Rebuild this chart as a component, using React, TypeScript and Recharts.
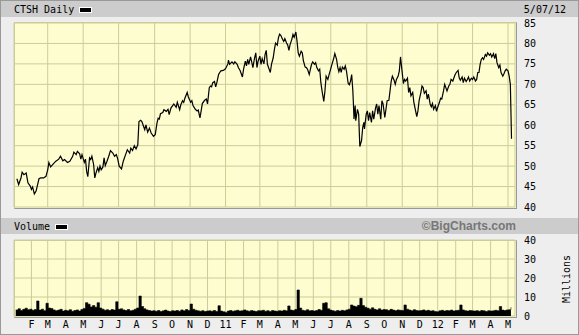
import React from 'react';
import { LineChart, Line, AreaChart, Area, XAxis, YAxis, CartesianGrid } from 'recharts';

// Days counted from 2010-01-01
const priceDays = [
  6, 9, 13, 15, 18, 22, 25, 29, 31, 33, 36, 39, 41, 44, 47, 52, 56, 59, 61, 64, 69, 73, 78, 81, 85, 88, 93, 97,
  102, 104, 108, 110, 114, 116, 118, 122, 124, 126, 128, 131, 133, 135, 138, 140, 142, 145, 147, 149, 151, 154,
  156, 158, 161, 164, 167, 171, 174, 177, 179, 182, 186, 189, 193, 196, 200, 202, 205, 208, 211, 214, 216, 219,
  221, 224, 226, 228, 231, 234, 237, 241, 244, 247, 249, 251, 253, 257, 259, 263, 266, 268, 271, 274, 276, 280,
  282, 286, 288,
  291, 293, 295, 299, 301, 305, 307, 309, 313, 316, 318, 321, 323, 325, 329, 332, 334, 337, 339, 341, 343, 346,
  348, 350, 353, 355, 357, 361, 364, 366, 369, 370, 372, 376, 379, 381, 385, 387, 390, 394, 396, 399, 401, 403,
  405, 408, 410, 412, 415, 417, 419, 421, 424, 426, 428, 431, 433, 435, 437, 440, 442, 444, 447, 449, 451, 454,
  456, 458, 460, 463, 465, 467, 470, 472, 474, 476, 479, 481, 483, 486, 488, 490, 492, 495, 497, 499, 502, 504,
  506, 509, 511, 513, 515, 518, 520, 522, 525, 527, 529, 531, 534, 536, 538, 541, 543, 545, 548, 551, 553, 556,
  558, 560,
  562, 564, 566, 569, 571, 573, 576, 578, 580, 582, 584, 585, 586, 588, 589, 592, 594, 595, 596, 599, 601, 603,
  604, 607, 609, 611, 613, 616, 618, 620, 623, 625, 627, 629, 632, 634, 636, 639, 641, 643, 646, 648, 650, 652,
  655, 657, 659, 662, 664, 666, 668, 671, 673, 675, 678, 680, 682, 684, 687, 689, 691, 694, 696, 698, 701, 703,
  705, 707, 710, 712, 714, 717, 719, 721, 723, 726, 728, 730, 733, 735, 737, 740, 742, 744, 746, 749, 751, 753,
  756, 758, 760, 762, 765, 767, 769, 772, 774, 776, 779, 781, 783, 785, 788, 790, 792, 795, 797, 799, 801, 803,
  805, 807, 809, 812, 814, 816, 819, 821, 823, 826, 828, 830, 832, 835, 837, 839, 842, 844, 846, 848, 851, 853,
  855, 857,
];

const prices = [
  46.9, 45.5, 47.1, 48.5, 47.9, 48.3, 45.9, 45.1, 44.3, 44.9, 43.2, 43.9, 45.1, 46.9, 47.1, 47.1, 47.5, 49.1, 50.9,
  49.8, 50.6, 51.2, 51.7, 52.4, 51.3, 51.6, 50.9, 51.2,
  52.4, 53.4, 52.8, 53.6, 53.0, 51.7, 52.8, 50.9, 51.7, 48.7, 47.4, 52.0, 51.6, 52.4, 50.4, 47.1, 48.3, 49.6, 48.7,
  50.0, 49.1, 49.8,
  52.0, 50.1, 51.2, 52.4, 53.8, 53.2, 52.4, 52.8, 52.0, 50.0, 49.3, 51.2, 52.8, 54.0, 53.2, 54.4, 53.8, 55.0, 54.2,
  55.2, 60.9, 61.2,
  60.9, 59.7, 58.9, 60.1, 58.3, 59.3, 58.1, 57.3, 57.7, 60.5, 61.7, 61.5, 62.8, 63.1, 63.8, 63.4, 63.9, 62.6, 64.2,
  64.8, 65.2, 64.4,
  65.6, 63.8, 65.0,
  66.0, 65.6, 66.6, 68.0, 66.9, 65.6, 66.0, 64.8, 63.9, 63.5, 63.7, 61.8, 63.5, 65.3, 66.1, 66.4, 65.2, 69.2, 69.6,
  69.4, 70.4, 70.7,
  69.4, 70.4, 72.4, 72.9, 73.3, 73.4, 73.7, 74.1, 75.0, 75.9, 74.9, 75.5, 75.0, 75.5, 74.9, 74.1, 73.4, 71.8, 73.7,
  75.7, 74.5, 76.1,
  74.9, 76.7, 75.5, 74.1, 76.5, 77.7, 74.1, 75.7, 76.9, 74.9, 76.3, 75.0, 77.3, 78.3, 74.9, 73.7, 72.9, 74.9, 76.5,
  78.5, 80.1, 79.6,
  81.4, 82.3, 82.0, 81.0, 80.5, 81.2, 80.1, 79.6, 78.3, 79.7, 81.0, 82.2, 81.5, 82.8, 80.5, 77.7, 76.9, 78.1, 77.7,
  75.7, 74.2, 74.1,
  73.7, 72.4, 73.7, 74.9, 75.5, 74.9, 75.3, 74.1, 73.3, 73.7, 70.4, 68.4, 65.8, 68.4, 72.0, 71.2, 72.3, 73.3, 74.9,
  76.3, 77.5, 76.1,
  74.2, 73.1,
  74.1, 72.9, 74.2, 73.7, 74.5, 73.3, 70.2, 69.9, 70.8, 72.4, 68.4, 65.2, 61.5, 64.8, 61.1, 63.9, 62.7, 58.7, 54.8,
  56.3, 59.5, 60.7,
  59.1, 62.7, 63.5, 61.1, 63.1, 60.7, 63.5, 61.5, 64.2, 65.2, 62.7, 64.8, 61.5, 66.0, 65.2, 61.9, 63.9, 66.0, 66.1,
  68.4, 70.8, 72.0,
  71.0, 70.0, 71.2, 72.0, 73.3, 76.7, 74.1, 70.2, 71.2, 70.8, 71.5, 68.0, 69.2, 67.2, 68.0, 65.6, 64.2, 62.1, 63.5,
  66.0, 68.0, 69.6,
  69.2, 67.8, 68.4, 66.4, 67.6, 65.2, 64.5, 65.3, 63.9, 64.8, 63.4, 64.4, 65.6, 66.6, 66.4, 68.4, 70.0, 69.2, 68.4,
  69.6, 70.0, 71.2,
  70.8, 71.6, 72.4, 72.9, 73.4, 71.6, 71.0, 71.8, 70.4, 71.5, 70.7, 71.2, 71.8, 70.8, 71.5, 71.2, 71.8, 70.8, 71.2,
  72.9, 72.9, 74.9,
  76.1, 76.5, 76.1, 77.3, 76.9, 77.7, 77.1, 77.5, 76.7, 77.5, 76.3, 77.5, 75.3, 74.1, 74.7, 72.9, 72.0, 72.6, 73.3,
  73.7, 73.3, 72.0,
  70.0, 56.7,
];

// Volume in millions, one value per 4-day step starting at day 4
const volumes = [
  3.2, 3.8, 2.9, 3.5, 4.1, 3.3, 3.6,
  3.0, 3.4, 7.9, 3.1, 3.6, 2.8, 6.7,
  4.2, 3.9, 3.2, 2.8, 3.1, 3.5, 2.6, 3.0,
  2.7, 3.3, 2.5, 2.9, 3.2, 2.6, 3.4, 4.0,
  7.0, 6.2, 4.8, 5.5, 4.6, 7.0, 4.2,
  3.6, 3.0, 3.3, 2.9, 3.4, 3.1, 7.5, 3.5,
  3.8, 3.2, 2.9, 3.4, 2.7, 3.0, 3.6, 4.2,
  10.5, 5.0, 3.8, 3.2, 2.9, 2.6, 2.8,
  2.5, 2.9, 2.4, 2.7, 3.1, 2.6, 2.4, 2.8,
  2.6, 2.9, 2.5, 3.2, 2.7, 3.4, 2.9,
  6.3, 3.6, 3.0, 2.7, 2.5, 2.8, 2.4, 2.6,
  2.7, 2.5, 2.9, 2.4, 5.4, 2.6, 2.2, 1.9,
  2.6, 2.9, 2.5, 2.7, 3.0, 2.6, 2.8,
  3.2, 2.7, 2.5, 2.9, 2.6, 2.4, 2.8,
  2.7, 3.0, 2.5, 2.8, 2.4, 2.9, 2.6, 2.5,
  2.8, 2.6, 3.0, 2.7, 5.3, 3.1, 2.9, 3.4,
  13.7, 4.2, 3.0, 2.8, 3.3, 2.7, 2.9,
  2.6, 2.9, 3.4, 3.0, 6.7, 7.0, 3.8, 3.1,
  2.8, 2.5, 2.9, 2.6, 3.0, 2.7, 3.2, 3.6,
  5.8, 5.2, 4.9, 5.6, 9.3, 5.5, 4.6,
  4.1, 3.6, 4.3, 3.5, 3.2, 3.8, 3.1, 3.4,
  3.3, 2.9, 3.5, 3.1, 2.8, 3.2, 3.0, 2.9,
  5.8, 3.6, 3.1, 2.8, 3.3, 2.9, 2.7,
  2.9, 3.2, 2.7, 3.0, 2.6, 2.8, 2.4, 2.2,
  2.7, 3.0, 2.6, 2.9, 2.8, 3.1, 2.6, 2.9,
  3.0, 5.8, 3.2, 2.8, 2.6, 2.9, 2.7,
  2.6, 2.8, 2.5, 2.9, 2.7, 2.4, 2.8, 2.6,
  2.7, 3.0, 2.8, 5.0, 3.1, 2.9, 3.2,
  3.3, 4.6,
];

const monthTicks = [
  31, 59, 90, 120, 151, 181, 212, 243, 273, 304, 334, 365, 396, 424, 455, 485, 516, 546, 577, 608, 638, 669,
  699, 730, 761, 790, 821, 851,
];
const monthLabels = [
  'F', 'M', 'A', 'M', 'J', 'J', 'A', 'S', 'O', 'N', 'D', '11', 'F', 'M', 'A', 'M', 'J', 'J', 'A', 'S', 'O', 'N',
  'D', '12', 'F', 'M', 'A', 'M',
];
const priceTicks = [40, 45, 50, 55, 60, 65, 70, 75, 80, 85];
const volumeTicks = [0, 10, 20, 30, 40];

const priceData = priceDays.map((d, i) => ({ d, p: prices[i] }));
const volumeData = volumes.map((v, i) => ({ d: 4 + 4 * i, v }));

const MONO = '"DejaVu Sans Mono", "Liberation Mono", monospace';
const GRID = '#cccc99';
const PLOT_BG = '#fdfdd0';
const X_DOMAIN: [number, number] = [1, 863];

const abs = (s: React.CSSProperties): React.CSSProperties => ({ position: 'absolute', ...s });

function Swatch({ left, top }: { left: number; top: number }) {
  return (
    <div style={abs({ left, top, width: 13, height: 6, background: '#fff', boxSizing: 'border-box', padding: 1 })}>
      <div style={{ width: '100%', height: '100%', background: '#000' }} />
    </div>
  );
}

export default function App() {
  return (
    <div
      style={abs({
        left: 0,
        top: 0,
        width: 579,
        height: 335,
        background: '#eeeeee',
        boxSizing: 'border-box',
        border: '1px solid #999',
        overflow: 'hidden',
        fontFamily: MONO,
      })}
    >
      {/* title bars */}
      <div style={abs({ left: 0, top: 0, width: 577, height: 16, background: '#cccccc' })} />
      <div style={abs({ left: 13, top: 2, fontSize: 10, lineHeight: '13px', color: '#000' })}>CTSH Daily</div>
      <Swatch left={78} top={6} />
      <div style={abs({ left: 500, width: 65, top: 2, fontSize: 10, lineHeight: '13px', color: '#000', textAlign: 'right' })}>
        5/07/12
      </div>

      <div style={abs({ left: 0, top: 217, width: 577, height: 16, background: '#cccccc' })} />
      <div style={abs({ left: 13, top: 219, fontSize: 10, lineHeight: '13px', color: '#000' })}>Volume</div>
      <Swatch left={54} top={223} />
      <div
        style={abs({
          left: 380,
          width: 135,
          top: 218,
          fontSize: 12,
          lineHeight: '14px',
          color: '#777',
          fontWeight: 'bold',
          textAlign: 'right',
          fontFamily: '"Liberation Sans", Arial, sans-serif',
        })}
      >
        ©BigCharts.com
      </div>

      {/* plot backgrounds */}
      <div
        style={abs({
          left: 13,
          top: 21,
          width: 503,
          height: 187,
          background: PLOT_BG,
          boxSizing: 'border-box',
          borderTop: `1px solid ${GRID}`,
          borderLeft: `1px solid ${GRID}`,
          borderRight: '1px solid #999',
          borderBottom: '1px solid #999',
        })}
      />
      <div
        style={abs({
          left: 13,
          top: 239,
          width: 503,
          height: 78,
          background: PLOT_BG,
          boxSizing: 'border-box',
          borderTop: `1px solid ${GRID}`,
          borderLeft: `1px solid ${GRID}`,
          borderRight: '1px solid #999',
          borderBottom: '1px solid #999',
        })}
      />

      {/* price chart */}
      <div style={abs({ left: -1, top: -1 })}>
        <LineChart width={579} height={335} data={priceData} margin={{ top: 23, right: 4, bottom: 128, left: 14 }}>
          <CartesianGrid stroke={GRID} strokeWidth={1} />
          <XAxis dataKey="d" type="number" domain={X_DOMAIN} ticks={monthTicks} hide allowDataOverflow />
          <YAxis
            orientation="right"
            domain={[40, 85]}
            ticks={priceTicks}
            interval={0}
            width={60}
            axisLine={false}
            tickLine={false}
            tickMargin={3}
            tick={{ fontSize: 10, fill: '#000', fontFamily: MONO }}
            allowDataOverflow
          />
          <Line dataKey="p" stroke="#000" strokeWidth={1.2} dot={false} isAnimationActive={false} />
        </LineChart>
      </div>

      {/* volume chart */}
      <div style={abs({ left: -1, top: -1 })}>
        <AreaChart width={579} height={335} data={volumeData} margin={{ top: 240, right: 4, bottom: 3, left: 14 }}>
          <CartesianGrid stroke={GRID} strokeWidth={1} />
          <XAxis
            dataKey="d"
            type="number"
            domain={X_DOMAIN}
            ticks={monthTicks}
            interval={0}
            height={16}
            axisLine={false}
            tickLine={false}
            tickSize={3}
            tickMargin={2}
            tickFormatter={(v: number) => monthLabels[monthTicks.indexOf(v)] ?? ''}
            tick={{ fontSize: 10, fill: '#000', fontFamily: MONO }}
            allowDataOverflow
          />
          <YAxis
            orientation="right"
            domain={[0, 40]}
            ticks={volumeTicks}
            interval={0}
            width={60}
            axisLine={false}
            tickLine={false}
            tickMargin={3}
            tick={{ fontSize: 10, fill: '#000', fontFamily: MONO }}
            allowDataOverflow
          />
          <Area
            type="stepAfter"
            dataKey="v"
            stroke="#000"
            strokeWidth={0.6}
            fill="#000"
            fillOpacity={1}
            isAnimationActive={false}
          />
        </AreaChart>
      </div>

      <div
        style={abs({
          left: 566 - 30,
          top: 278 - 7,
          width: 60,
          height: 14,
          fontSize: 10,
          lineHeight: '14px',
          textAlign: 'center',
          transform: 'rotate(-90deg)',
          color: '#000',
        })}
      >
        Millions
      </div>
    </div>
  );
}
